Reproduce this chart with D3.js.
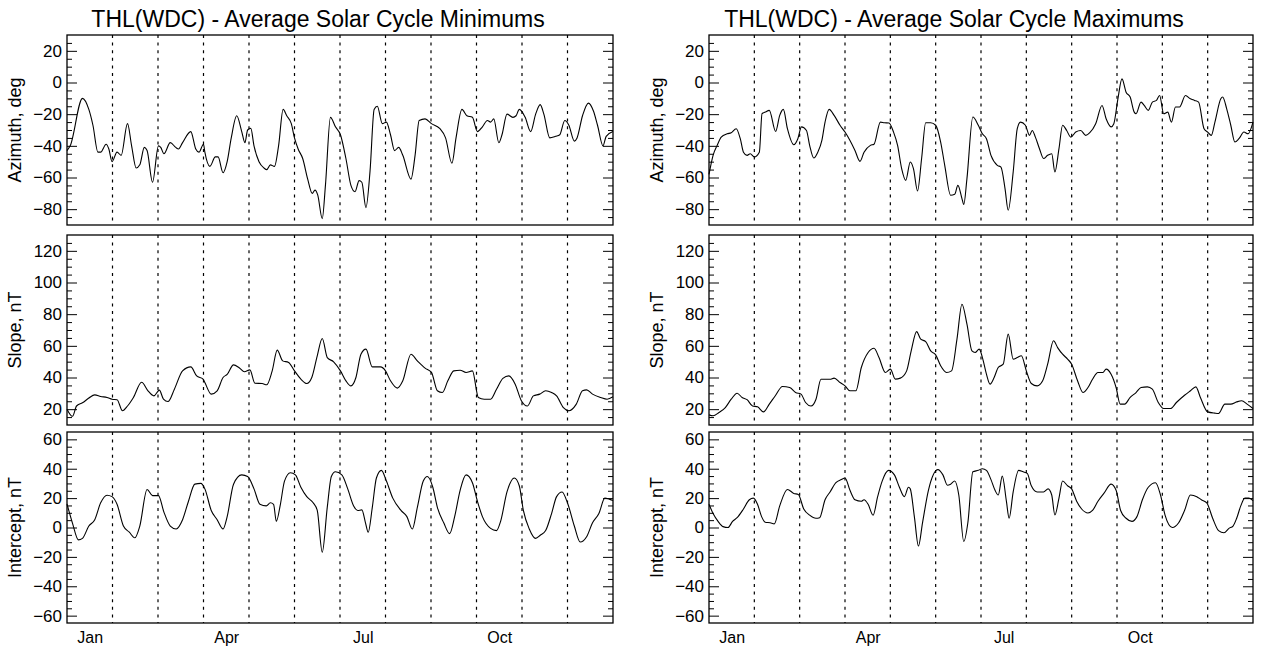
<!DOCTYPE html>
<html><head><meta charset="utf-8">
<script src="https://cdn.jsdelivr.net/npm/d3@7"></script>
<style>
body{margin:0;background:#fff;}
svg{display:block;font-family:"Liberation Sans",Arial,Helvetica,sans-serif;}
</style>
</head><body>
<svg id="chart" width="1264" height="651"></svg>
<script>
// ---------- DATA (x = fractional month from Jan 1, 0..12) ----------
const monthLabels = ["Jan", "Apr", "Jul", "Oct"];
const monthLabelPos = [0.5, 3.5, 6.5, 9.5];
const monthBoundaries = [1,2,3,4,5,6,7,8,9,10,11];

const titles = ["THL(WDC) - Average Solar Cycle Minimums", "THL(WDC) - Average Solar Cycle Maximums"];
const rowLabels = ["Azimuth, deg", "Slope, nT", "Intercept, nT"];
const azimuthTicks = [-80,-60,-40,-20,0,20];
const slopeTicks = [20,40,60,80,100,120];
const interceptTicks = [-60,-40,-20,0,20,40,60];

const minAzimuth = [[0,-43],[0.07,-40],[0.34,-10],[0.48,-17],[0.57,-27],[0.68,-44],[0.74,-44],[0.86,-39],[0.92,-42],[0.99,-50],[1.10,-44],[1.19,-46],[1.33,-26],[1.42,-40],[1.52,-54],[1.60,-52],[1.70,-41],[1.76,-43],[1.88,-63],[2.01,-40],[2.06,-41],[2.13,-45],[2.27,-38],[2.39,-41],[2.45,-42],[2.54,-38],[2.72,-31],[2.83,-42],[2.90,-44],[3.00,-39],[3.03,-44],[3.14,-53],[3.26,-47],[3.32,-47],[3.43,-57],[3.52,-50],[3.61,-35],[3.73,-21],[3.84,-31],[3.91,-38],[3.97,-30],[4.04,-29],[4.11,-40],[4.22,-50],[4.33,-54],[4.39,-55],[4.47,-52],[4.56,-53],[4.65,-40],[4.75,-17],[4.83,-21],[4.93,-26],[5.00,-35],[5.08,-42],[5.18,-48],[5.29,-61],[5.39,-70],[5.45,-68],[5.51,-71],[5.61,-86],[5.68,-65],[5.79,-22],[5.90,-28],[6.01,-33],[6.13,-48],[6.24,-65],[6.33,-69],[6.42,-62],[6.48,-63],[6.57,-79],[6.66,-56],[6.75,-17],[6.82,-15],[6.93,-26],[7.02,-25],[7.11,-33],[7.20,-43],[7.29,-41],[7.38,-46],[7.56,-61],[7.65,-46],[7.74,-24],[7.87,-23],[8.01,-26],[8.19,-29],[8.32,-35],[8.46,-51],[8.55,-35],[8.68,-17],[8.79,-21],[8.91,-22],[9.02,-31],[9.13,-28],[9.24,-24],[9.31,-25],[9.38,-23],[9.49,-38],[9.56,-33],[9.67,-20],[9.80,-22],[9.87,-21],[9.94,-17],[10.07,-22],[10.19,-31],[10.30,-20],[10.40,-14],[10.48,-20],[10.61,-35],[10.74,-34],[10.83,-33],[10.94,-24],[11.03,-27],[11.15,-37],[11.21,-35],[11.33,-21],[11.46,-13],[11.57,-18],[11.66,-27],[11.78,-40],[11.85,-34],[12,-31]];

const minSlope = [[0,20],[0.12,15.5],[0.21,22],[0.34,24],[0.48,27],[0.61,29],[0.74,28],[0.88,27.4],[0.99,26.3],[1.10,26],[1.22,19],[1.33,22],[1.46,27.4],[1.64,37],[1.78,31.6],[1.91,28.4],[2.03,32],[2.12,26.3],[2.22,24.8],[2.36,32.6],[2.54,44.2],[2.72,46.7],[2.85,41],[2.99,39],[3.03,36.8],[3.17,29.5],[3.30,31.6],[3.43,40],[3.52,42],[3.66,48],[3.79,46],[3.90,43.6],[4.02,44.8],[4.13,36.4],[4.29,36.2],[4.39,35.4],[4.51,44.2],[4.62,57.3],[4.74,50.5],[4.87,49.5],[5.00,44.2],[5.14,39],[5.27,36.2],[5.38,40],[5.50,53.7],[5.61,64.6],[5.72,52.6],[5.86,49.9],[6.01,44.2],[6.13,37.9],[6.24,34.7],[6.35,40],[6.46,54.7],[6.57,57.9],[6.71,46.7],[6.89,46.7],[7.00,44.2],[7.11,37.9],[7.26,33.3],[7.38,37.9],[7.56,54.7],[7.70,50.5],[7.87,45.9],[8.01,43.2],[8.14,31.6],[8.25,30.5],[8.37,37.9],[8.50,44.2],[8.64,44.6],[8.77,43.2],[8.91,44.2],[9.04,27.4],[9.17,26.3],[9.31,26.3],[9.44,32.6],[9.58,39.4],[9.71,41],[9.85,35.8],[9.98,25.7],[10.12,22],[10.25,28.4],[10.39,29.5],[10.52,31.6],[10.65,30.5],[10.76,28.4],[10.91,21],[11.03,19],[11.19,23],[11.33,31.6],[11.42,32.2],[11.55,29.5],[11.73,27.4],[11.87,26.3],[12,27.8]];

const minIntercept = [[0,16],[0.12,3],[0.25,-8.4],[0.34,-7.4],[0.48,1],[0.61,5.3],[0.74,16.8],[0.88,22],[0.99,21],[1.10,15.8],[1.24,1],[1.37,-3.2],[1.49,-7],[1.60,1],[1.76,25.9],[1.88,21.7],[2.01,21.7],[2.13,10.5],[2.27,1],[2.40,-1],[2.54,5.3],[2.67,17.9],[2.81,29.5],[2.94,30],[3.03,26.3],[3.17,11.6],[3.30,5.3],[3.43,-1],[3.52,7.4],[3.66,29.5],[3.84,35.8],[3.97,34.7],[4.11,26.3],[4.24,15.8],[4.38,14.7],[4.47,16.8],[4.54,15.8],[4.60,4.2],[4.69,15.8],[4.78,31.6],[4.91,37.3],[5.02,35.8],[5.14,27.4],[5.27,21],[5.41,16.8],[5.50,11.6],[5.61,-16.8],[5.72,13.7],[5.81,34.7],[5.90,37.9],[6.04,35.8],[6.17,26.3],[6.30,14.7],[6.39,11.6],[6.48,12],[6.56,3.2],[6.62,-3.2],[6.71,13.7],[6.80,33.7],[6.91,38.9],[7.02,31.6],[7.16,20],[7.34,11.6],[7.47,7.4],[7.59,-1],[7.70,13.7],[7.83,31.6],[7.92,34.7],[8.04,27.4],[8.14,13.7],[8.28,3.2],[8.41,-4.2],[8.52,7.4],[8.64,25.3],[8.77,35.8],[8.91,30.5],[9.02,17.9],[9.13,7.4],[9.31,-0.6],[9.44,-2.1],[9.53,4.2],[9.67,24.2],[9.83,33.7],[9.94,28.4],[10.03,11.6],[10.16,-1],[10.30,-7.4],[10.40,-5.3],[10.52,-2.1],[10.65,9.5],[10.76,21],[10.88,24.2],[11.01,15.8],[11.15,1],[11.28,-9.9],[11.42,-6.3],[11.55,3.2],[11.69,9.5],[11.82,20],[12,18.3]];

const maxAzimuth = [[0,-58],[0.09,-46],[0.18,-39.7],[0.27,-34.5],[0.40,-32.4],[0.49,-31.7],[0.60,-29.2],[0.69,-35.5],[0.76,-44],[0.84,-46],[0.91,-45],[1.00,-47],[1.11,-44],[1.17,-19.7],[1.24,-18.7],[1.33,-17.6],[1.47,-30.9],[1.56,-20.8],[1.64,-17],[1.73,-29.2],[1.87,-39.3],[1.96,-35.5],[2.04,-28],[2.15,-30.3],[2.22,-39.7],[2.31,-47.7],[2.40,-44],[2.49,-36.6],[2.56,-25],[2.65,-17],[2.76,-20.8],[2.89,-27],[3.00,-31.3],[3.11,-36.6],[3.22,-42.9],[3.33,-49.8],[3.42,-44],[3.56,-39.7],[3.64,-39],[3.78,-25],[3.87,-25.4],[3.97,-25.6],[4.07,-31.3],[4.16,-39.7],[4.25,-54.4],[4.34,-61.8],[4.44,-50.2],[4.51,-54.4],[4.60,-68.5],[4.69,-48],[4.78,-25.4],[4.89,-25.4],[5.00,-27],[5.11,-37.6],[5.20,-52.3],[5.33,-71.2],[5.42,-70.6],[5.49,-65],[5.58,-73.3],[5.62,-77],[5.69,-60.7],[5.82,-21.8],[5.94,-27],[6.03,-32.4],[6.12,-35.5],[6.22,-46],[6.36,-52.3],[6.44,-53.4],[6.53,-67],[6.60,-80.7],[6.71,-56.5],[6.80,-29.2],[6.87,-25],[6.98,-27],[7.07,-33.4],[7.13,-30.3],[7.20,-34.5],[7.29,-41.8],[7.38,-48],[7.47,-46],[7.56,-45],[7.63,-56.5],[7.72,-41.8],[7.80,-27],[7.89,-30.3],[7.98,-34.5],[8.09,-31.3],[8.20,-30.3],[8.31,-33.4],[8.40,-31.7],[8.53,-26],[8.67,-14.5],[8.76,-22.9],[8.87,-28],[8.93,-26],[9.02,-10.3],[9.11,2.3],[9.20,-6.1],[9.29,-9.2],[9.38,-18.7],[9.42,-19.7],[9.53,-12.4],[9.60,-14.5],[9.69,-17.6],[9.78,-12.4],[9.87,-11.3],[9.94,-8.2],[10.03,-19.7],[10.12,-18.7],[10.20,-25],[10.29,-15.5],[10.38,-15.5],[10.51,-8.2],[10.62,-10.3],[10.71,-11.3],[10.80,-12.4],[10.92,-29.2],[11.00,-31.3],[11.08,-33.4],[11.16,-25],[11.29,-10.3],[11.33,-9.2],[11.42,-16.6],[11.51,-27],[11.60,-37.6],[11.69,-35.5],[11.80,-31.3],[11.89,-32.4],[12,-25]];

const maxSlope = [[0,16.4],[0.09,15.8],[0.22,17.9],[0.36,21],[0.49,26.3],[0.62,30.1],[0.73,27.4],[0.84,26],[0.96,22],[1.07,21.5],[1.20,18.3],[1.33,23.2],[1.47,28.8],[1.62,34.3],[1.78,33.7],[1.91,30.5],[2.03,29.5],[2.13,24.2],[2.25,22],[2.36,26.3],[2.47,38.9],[2.58,38.9],[2.67,38.9],[2.76,39.6],[2.89,36.8],[3.00,34.7],[3.11,31.6],[3.24,31.6],[3.36,46.3],[3.51,55.8],[3.64,58.5],[3.75,52.6],[3.89,43.2],[4.00,45.3],[4.11,39],[4.22,39.6],[4.36,44.2],[4.46,56.8],[4.58,69],[4.67,64.2],[4.78,62.7],[4.89,56.8],[5.00,54.3],[5.11,47.4],[5.24,43.2],[5.35,44.2],[5.47,64.2],[5.58,86.3],[5.69,73.7],[5.80,56.8],[5.87,55.8],[5.96,57.9],[6.04,51.6],[6.12,42.1],[6.20,35.8],[6.29,40],[6.38,46.3],[6.49,48.4],[6.60,67.4],[6.71,51.6],[6.80,52.6],[6.89,53.7],[7.00,44.2],[7.11,36.2],[7.24,34.7],[7.36,37.9],[7.47,48.4],[7.60,63.2],[7.69,58.9],[7.80,54.7],[7.91,51.6],[8.00,48.4],[8.13,37.9],[8.25,30.5],[8.36,33.7],[8.46,38.9],[8.58,43.2],[8.69,43.2],[8.76,45.3],[8.87,42.1],[8.98,33.7],[9.07,23.2],[9.17,23.2],[9.29,27.4],[9.42,30.5],[9.53,33.7],[9.67,34.1],[9.78,32.6],[9.91,24.2],[10.03,20.4],[10.18,20.4],[10.31,24.2],[10.49,28.8],[10.62,31.6],[10.74,34.1],[10.84,27.4],[11.00,18.3],[11.16,17.5],[11.24,17.3],[11.38,23.2],[11.51,23.2],[11.64,24.6],[11.75,25.3],[11.87,23.2],[12,20.4]];

const maxIntercept = [[0,15.8],[0.09,9.5],[0.20,4.2],[0.31,0.6],[0.42,0],[0.52,4.2],[0.62,6.7],[0.76,12.6],[0.89,18.9],[0.98,20],[1.07,15.8],[1.16,7.4],[1.24,3.6],[1.35,3.2],[1.44,2.5],[1.56,14.7],[1.73,25.9],[1.87,23.2],[1.97,22.5],[2.09,12.6],[2.22,8.4],[2.36,6.3],[2.44,6.7],[2.56,18.9],[2.67,24.2],[2.80,30.5],[2.92,32.6],[3.00,33.7],[3.11,25.3],[3.22,18.9],[3.36,17.9],[3.42,18.9],[3.51,15.8],[3.62,8.4],[3.72,21],[3.82,31.6],[3.96,38.9],[4.09,35.8],[4.20,27.4],[4.31,21],[4.40,27.4],[4.44,26.3],[4.53,7.4],[4.62,-12.6],[4.71,3.2],[4.84,25.3],[5.05,39.4],[5.16,35.8],[5.26,28.8],[5.33,29.5],[5.42,31.6],[5.51,22.1],[5.62,-9.5],[5.71,3.2],[5.82,37.9],[5.94,38.9],[6.03,40],[6.12,38.9],[6.22,32.6],[6.31,25.3],[6.38,22.1],[6.47,35],[6.56,17.9],[6.62,6.3],[6.71,24.2],[6.83,38.9],[6.93,37.9],[7.02,36.8],[7.11,28.4],[7.24,24.2],[7.38,24.2],[7.48,26.3],[7.56,22.1],[7.63,8.5],[7.72,20],[7.80,31.6],[7.91,28.4],[8.00,26.3],[8.11,17.9],[8.22,12.6],[8.36,9.9],[8.46,11.6],[8.58,17.9],[8.71,23.2],[8.87,29.5],[8.98,25.3],[9.08,11.6],[9.20,6.3],[9.33,4.2],[9.44,7.4],[9.56,18.9],[9.69,27.4],[9.85,30.5],[9.96,22.1],[10.06,8.4],[10.22,0],[10.36,3.2],[10.49,11.6],[10.62,22.1],[10.76,21],[10.86,18.9],[10.98,16.8],[11.11,6.3],[11.24,-2.1],[11.36,-3.6],[11.47,-0.6],[11.56,1],[11.64,6.3],[11.73,14.7],[11.82,20],[11.91,20],[12,18.3]];

// ---------- LAYOUT ----------
const svg = d3.select("#chart");
const cols = [
  {x0: 67, x1: 613, tx: 318, title: titles[0], series: [minAzimuth, minSlope, minIntercept]},
  {x0: 709, x1: 1253, tx: 954, title: titles[1], series: [maxAzimuth, maxSlope, maxIntercept]}
];
const rows = [
  {y0: 35, y1: 225, domain: [-90, 30], ticks: azimuthTicks, label: rowLabels[0]},
  {y0: 235, y1: 425, domain: [10, 130], ticks: slopeTicks, label: rowLabels[1]},
  {y0: 432, y1: 623, domain: [-65, 65], ticks: interceptTicks, label: rowLabels[2]}
];

cols.forEach((col, ci) => {
  svg.append("text")
    .attr("x", col.tx).attr("y", 27)
    .attr("text-anchor", "middle")
    .attr("font-size", 23)
    .attr("fill", "#000")
    .text(col.title);

  const x = d3.scaleLinear().domain([0, 12]).range([col.x0, col.x1]);

  rows.forEach((row, ri) => {
    const y = d3.scaleLinear().domain(row.domain).range([row.y1, row.y0]);
    const g = svg.append("g");

    // month boundary dashed lines
    g.selectAll("line.grid").data(monthBoundaries).join("line")
      .attr("x1", d => x(d)).attr("x2", d => x(d))
      .attr("y1", row.y0).attr("y2", row.y1)
      .attr("stroke", "#000").attr("stroke-width", 1.2)
      .attr("stroke-dasharray", "3,4.6");

    const minors = d3.range(row.domain[0] + 5, row.domain[1], 5).filter(v => !row.ticks.includes(v));

    // left axis
    const la = g.append("g").attr("transform", `translate(${col.x0},0)`)
      .call(d3.axisLeft(y).tickValues(row.ticks).tickSizeInner(-10).tickSizeOuter(0).tickPadding(5));
    la.select(".domain").remove();
    la.selectAll("text").attr("font-size", 17).attr("font-family", "Liberation Sans, Arial, sans-serif").attr("fill", "#000");
    const lm = g.append("g").attr("transform", `translate(${col.x0},0)`)
      .call(d3.axisLeft(y).tickValues(minors).tickSizeInner(-5).tickSizeOuter(0).tickFormat(""));
    lm.select(".domain").remove();

    // right axis
    const ra = g.append("g").attr("transform", `translate(${col.x1},0)`)
      .call(d3.axisRight(y).tickValues(row.ticks).tickSizeInner(-10).tickSizeOuter(0).tickFormat(""));
    ra.select(".domain").remove();
    const rm = g.append("g").attr("transform", `translate(${col.x1},0)`)
      .call(d3.axisRight(y).tickValues(minors).tickSizeInner(-5).tickSizeOuter(0).tickFormat(""));
    rm.select(".domain").remove();

    g.selectAll(".tick line").attr("stroke", "#000").attr("stroke-width", 1);

    // frame
    g.append("rect")
      .attr("x", col.x0).attr("y", row.y0)
      .attr("width", col.x1 - col.x0).attr("height", row.y1 - row.y0)
      .attr("fill", "none").attr("stroke", "#000").attr("stroke-width", 1.3);

    // y label
    g.append("text")
      .attr("transform", `translate(${col.x0 - 46},${(row.y0 + row.y1) / 2}) rotate(-90)`)
      .attr("text-anchor", "middle")
      .attr("font-size", 18)
      .attr("fill", "#000")
      .text(row.label);

    // data line
    const line = d3.line()
      .x(d => x(d[0])).y(d => y(d[1]))
      .curve(d3.curveMonotoneX);
    g.append("path")
      .datum(col.series[ri])
      .attr("d", line)
      .attr("fill", "none").attr("stroke", "#000").attr("stroke-width", 1.1);

    // x axis labels on bottom row
    if (ri === 2) {
      const xa = g.append("g").attr("transform", `translate(0,${row.y1})`)
        .call(d3.axisBottom(x).tickValues(monthLabelPos)
          .tickFormat((d, i) => monthLabels[i]).tickSize(0).tickPadding(9));
      xa.select(".domain").remove();
      xa.selectAll("text").attr("font-size", 16).attr("font-family", "Liberation Sans, Arial, sans-serif").attr("fill", "#000");
    }
  });
});
</script>
</body></html>
